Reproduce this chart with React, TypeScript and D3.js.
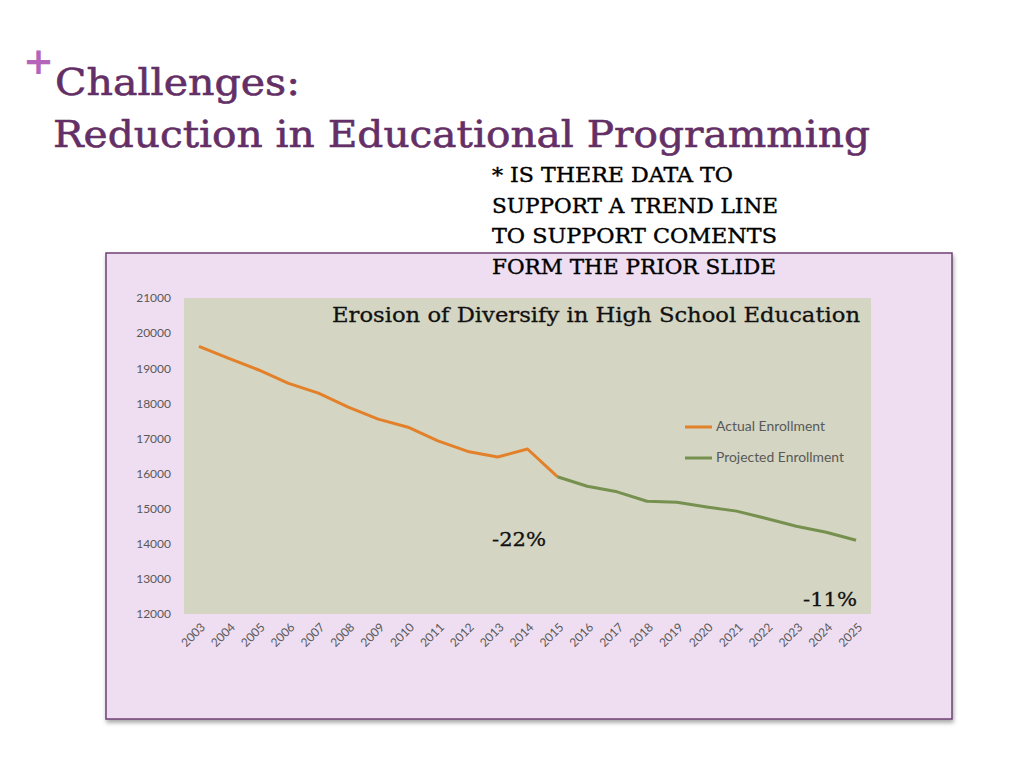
import React, { useEffect, useRef } from 'react';
import * as d3 from 'd3';

const years = [
  '2003', '2004', '2005', '2006', '2007', '2008', '2009', '2010', '2011', '2012', '2013', '2014',
  '2015', '2016', '2017', '2018', '2019', '2020', '2021', '2022', '2023', '2024', '2025',
];
const actual: (number | null)[] = [
  19620, 19280, 18950, 18570, 18290, 17890, 17550, 17320, 16930, 16630, 16470, 16700,
  15910, null, null, null, null, null, null, null, null, null, null,
];
const projected: (number | null)[] = [
  null, null, null, null, null, null, null, null, null, null, null, null,
  15910, 15640, 15480, 15210, 15180, 15050, 14930, 14720, 14500, 14330, 14100,
];
const yTicks = [12000, 13000, 14000, 15000, 16000, 17000, 18000, 19000, 20000, 21000];
const seriesNames = ['Actual Enrollment', 'Projected Enrollment'];
const seriesColors = ['#e3812a', '#76904f'];
const noteLines = ['* IS THERE DATA TO', 'SUPPORT A TREND LINE', 'TO SUPPORT COMENTS', 'FORM THE PRIOR SLIDE'];

export default function App() {
  const svgRef = useRef<SVGSVGElement>(null);

  useEffect(() => {
    if (!svgRef.current) return;
    const svg = d3.select(svgRef.current);
    svg.selectAll('*').remove();

    const purple = '#642f66';
    const serif = '"DejaVu Serif", serif';
    const sans = 'Lato, "DejaVu Sans", sans-serif';

    // slide heading
    svg.append('text')
      .attr('x', 23).attr('y', 74)
      .attr('fill', '#b465b9')
      .style('font-family', '"DejaVu Sans", sans-serif').style('font-size', '37px').style('font-weight', 'bold')
      .text('+');
    svg.append('text')
      .attr('x', 55).attr('y', 95)
      .attr('fill', purple).attr('stroke', purple).attr('stroke-width', 0.6)
      .style('font-family', serif).style('font-size', '38px')
      .attr('textLength', 245).attr('lengthAdjust', 'spacingAndGlyphs')
      .text('Challenges:');
    svg.append('text')
      .attr('x', 53).attr('y', 147)
      .attr('fill', purple).attr('stroke', purple).attr('stroke-width', 0.6)
      .style('font-family', serif).style('font-size', '38px')
      .attr('textLength', 817).attr('lengthAdjust', 'spacingAndGlyphs')
      .text('Reduction in Educational Programming');

    // chart frame
    const defs = svg.append('defs');
    const filter = defs.append('filter').attr('id', 'shadow').attr('x', '-5%').attr('y', '-5%').attr('width', '110%').attr('height', '115%');
    filter.append('feDropShadow').attr('dx', 1).attr('dy', 3).attr('stdDeviation', 2).attr('flood-color', '#000').attr('flood-opacity', 0.35);

    svg.append('rect')
      .attr('x', 106).attr('y', 253).attr('width', 846).attr('height', 466)
      .attr('fill', '#efdef1')
      .attr('stroke', '#6f4274').attr('stroke-width', 1.5)
      .attr('filter', 'url(#shadow)');

    const plot = { left: 184, top: 298, right: 871, bottom: 614 };

    const x = d3.scaleBand<string>().domain(years).range([plot.left, plot.right]);
    const y = d3.scaleLinear().domain([12000, 21000]).range([plot.bottom, plot.top]);

    svg.append('rect')
      .attr('x', plot.left).attr('y', plot.top)
      .attr('width', plot.right - plot.left).attr('height', plot.bottom - plot.top)
      .attr('fill', '#d4d5c2');

    // y axis
    const yAxis = svg.append('g')
      .attr('transform', `translate(${plot.left},0)`)
      .call(d3.axisLeft(y).tickValues(yTicks).tickSize(0).tickPadding(13).tickFormat(d3.format('d')));
    yAxis.select('.domain').remove();
    yAxis.selectAll('text')
      .attr('fill', '#595959')
      .style('font-family', sans).style('font-size', '12px');

    // x axis
    const xAxis = svg.append('g')
      .attr('transform', `translate(0,${plot.bottom})`)
      .call(d3.axisBottom(x).tickSize(0).tickPadding(0));
    xAxis.select('.domain').remove();
    xAxis.selectAll('text')
      .attr('fill', '#595959')
      .style('font-family', sans).style('font-size', '12px')
      .attr('text-anchor', 'end')
      .attr('dy', 0)
      .attr('transform', 'translate(7,14) rotate(-45)');

    const line = d3.line<number | null>()
      .defined(d => d !== null)
      .x((_, i) => (x(years[i]) ?? 0) + x.bandwidth() / 2)
      .y(d => y(d as number));

    [actual, projected].forEach((s, i) => {
      svg.append('path')
        .datum(s)
        .attr('fill', 'none')
        .attr('stroke', seriesColors[i])
        .attr('stroke-width', 3)
        .attr('stroke-linejoin', 'round')
        .attr('d', line);
    });

    // chart title
    svg.append('text')
      .attr('x', 596).attr('y', 322)
      .attr('text-anchor', 'middle')
      .attr('fill', '#111').attr('stroke', '#111').attr('stroke-width', 0.3)
      .style('font-family', serif).style('font-size', '21px')
      .attr('textLength', 528).attr('lengthAdjust', 'spacingAndGlyphs')
      .text('Erosion of Diversify in High School Education');

    // legend
    seriesNames.forEach((name, i) => {
      const ly = 427 + i * 31;
      svg.append('line')
        .attr('x1', 685).attr('x2', 712).attr('y1', ly).attr('y2', ly)
        .attr('stroke', seriesColors[i]).attr('stroke-width', 3);
      svg.append('text')
        .attr('x', 716).attr('y', ly + 4)
        .attr('fill', '#595959')
        .style('font-family', sans).style('font-size', '12.5px')
        .attr('textLength', i === 0 ? 109 : 128).attr('lengthAdjust', 'spacingAndGlyphs')
        .text(name);
    });

    // change annotations
    svg.append('text')
      .attr('x', 492).attr('y', 546)
      .attr('fill', '#111').attr('stroke', '#111').attr('stroke-width', 0.3)
      .style('font-family', serif).style('font-size', '19px')
      .attr('textLength', 54).attr('lengthAdjust', 'spacingAndGlyphs')
      .text('-22%');
    svg.append('text')
      .attr('x', 803).attr('y', 606)
      .attr('fill', '#111').attr('stroke', '#111').attr('stroke-width', 0.3)
      .style('font-family', serif).style('font-size', '19px')
      .attr('textLength', 54).attr('lengthAdjust', 'spacingAndGlyphs')
      .text('-11%');

    // note
    noteLines.forEach((t, i) => {
      svg.append('text')
        .attr('x', 492).attr('y', 182 + i * 30.5)
        .attr('fill', '#000').attr('stroke', '#000').attr('stroke-width', 0.4)
        .style('font-family', serif).style('font-size', '21px')
        .attr('textLength', [241, 286, 285, 284][i]).attr('lengthAdjust', 'spacingAndGlyphs')
        .text(t);
    });
  }, []);

  return (
    <svg
      ref={svgRef}
      width={1024}
      height={768}
      style={{ position: 'absolute', left: 0, top: 0, background: '#fff' }}
    />
  );
}
